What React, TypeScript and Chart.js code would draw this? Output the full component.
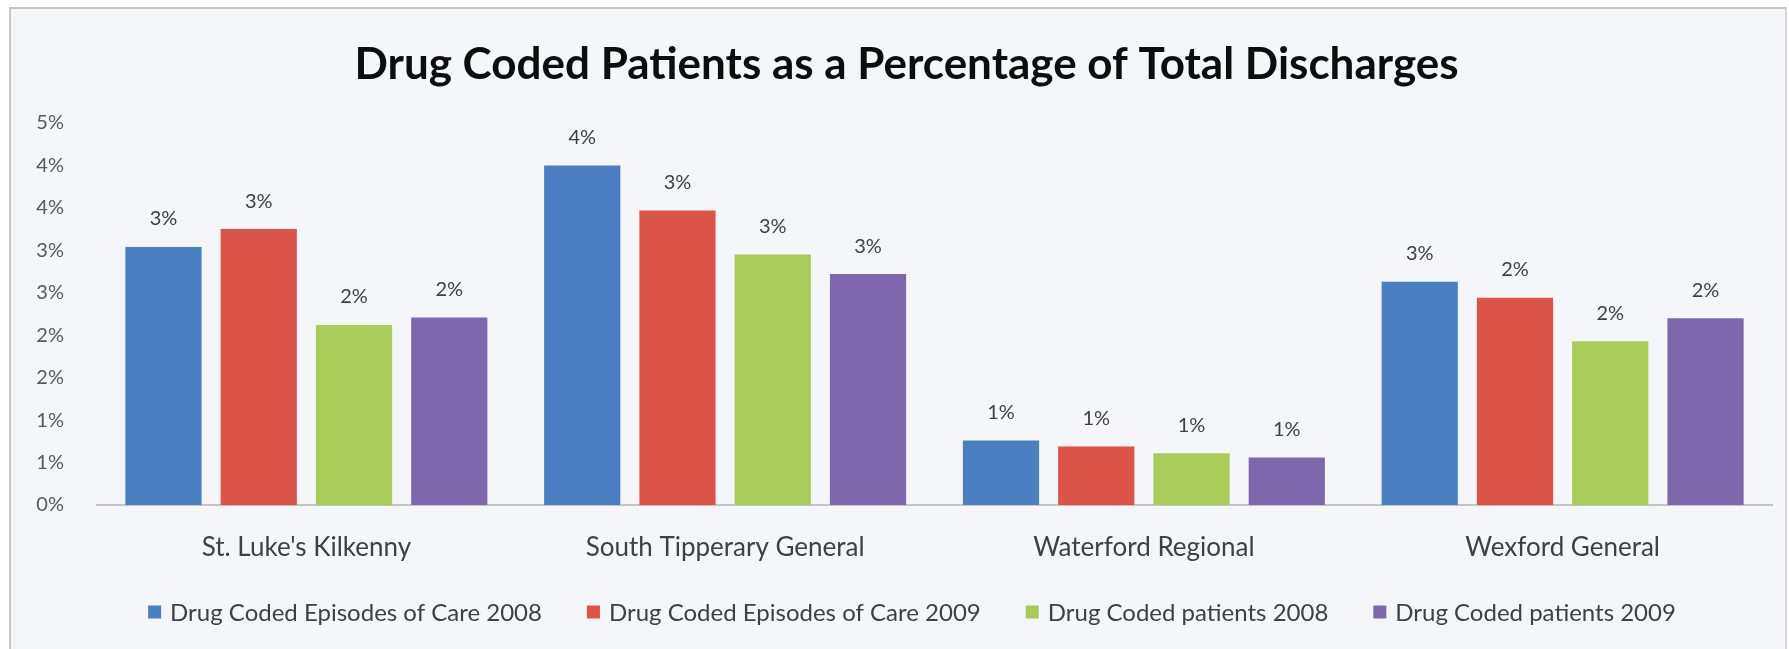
import React, { useEffect, useRef } from "react";
import { Chart, registerables } from "chart.js";

Chart.register(...registerables);

const TITLE = "Drug Coded Patients as a Percentage of Total Discharges";
const categories = ["St. Luke's Kilkenny", "South Tipperary General", "Waterford Regional", "Wexford General"];
const seriesNames = [
  "Drug Coded Episodes of Care 2008",
  "Drug Coded Episodes of Care 2009",
  "Drug Coded patients 2008",
  "Drug Coded patients 2009",
];
const episodes2008 = [3.04, 4.0, 0.76, 2.63];
const episodes2009 = [3.25, 3.47, 0.69, 2.44];
const patients2008 = [2.12, 2.95, 0.61, 1.93];
const patients2009 = [2.21, 2.72, 0.56, 2.2];
const seriesColors = ["#4a7fc1", "#dc5447", "#a9cc58", "#7f67ad"];
const yMin = 0;
const yMax = 4.5;
const yStep = 0.5;

const FONT = "Lato, 'Open Sans', sans-serif";

const pct = (v: number) => Math.round(v) + "%";

const overlayPlugin = {
  id: "overlay",
  afterDatasetsDraw(chart: any) {
    const ctx = chart.ctx;
    ctx.save();
    // title
    ctx.font = `bold 44px ${FONT}`;
    ctx.fillStyle = "#0d0d0d";
    ctx.textAlign = "center";
    ctx.textBaseline = "middle";
    ctx.fillText(TITLE, chart.width / 2 + 12, 65);
    // data labels
    ctx.font = `20px ${FONT}`;
    ctx.fillStyle = "#404040";
    chart.data.datasets.forEach((ds: any, i: number) => {
      const meta = chart.getDatasetMeta(i);
      meta.data.forEach((bar: any, j: number) => {
        ctx.fillText(pct(ds.data[j]), bar.x, bar.y - 28);
      });
    });
    // legend
    const legendY = 612;
    const box = 13;
    const boxGap = 9;
    const itemGap = 45;
    ctx.font = `24px ${FONT}`;
    const widths = chart.data.datasets.map((ds: any) => ctx.measureText(ds.label).width);
    const n = chart.data.datasets.length;
    const total = widths.reduce((a: number, b: number) => a + b, 0) + n * (box + boxGap) + itemGap * (n - 1);
    let x = 912 - total / 2;
    ctx.textAlign = "left";
    chart.data.datasets.forEach((ds: any, i: number) => {
      ctx.fillStyle = ds.backgroundColor;
      ctx.fillRect(x, legendY - box / 2, box, box);
      x += box + boxGap;
      ctx.fillStyle = "#404040";
      ctx.fillText(ds.label, x, legendY + 1);
      x += widths[i] + itemGap;
    });
    ctx.restore();
  },
};

export default function App() {
  const canvasRef = useRef<HTMLCanvasElement | null>(null);

  useEffect(() => {
    if (!canvasRef.current) return;
    const allSeries = [episodes2008, episodes2009, patients2008, patients2009];
    const chart = new Chart(canvasRef.current, {
      type: "bar",
      data: {
        labels: categories,
        datasets: allSeries.map((d, i) => ({
          label: seriesNames[i],
          data: d,
          backgroundColor: seriesColors[i],
          borderWidth: 0,
          categoryPercentage: 0.91,
          barPercentage: 0.8,
        })),
      },
      options: {
        animation: false,
        responsive: true,
        maintainAspectRatio: false,
        layout: { padding: { left: 10, right: 17, top: 123, bottom: 4 } },
        plugins: {
          legend: { display: false },
          tooltip: { enabled: false },
          title: { display: false },
        },
        scales: {
          x: {
            grid: { display: false, drawTicks: false },
            border: { display: true, color: "#c4c4c4", width: 2 },
            ticks: { color: "#404040", font: { family: FONT, size: 26 }, padding: 27 },
            afterFit: (s: any) => { s.height = 140; },
          },
          y: {
            min: yMin,
            max: yMax,
            grid: { display: false, drawTicks: false },
            border: { display: false },
            ticks: {
              stepSize: yStep,
              color: "#595959",
              font: { family: FONT, size: 20 },
              padding: 33,
              callback: (v: any) => pct(Number(v)),
            },
            afterFit: (s: any) => { s.width = 87; },
          },
        },
      },
      plugins: [overlayPlugin],
    });
    return () => chart.destroy();
  }, []);

  return (
    <div style={{ position: "fixed", left: 0, top: 0, width: 1789, height: 649, background: "#ffffff", overflow: "hidden" }}>
      <div
        style={{
          position: "absolute",
          left: 9,
          top: 7,
          width: 1774,
          height: 660,
          background: "#f4f6fa",
          borderTop: "2px solid #c8c8c8",
          borderLeft: "2px solid #c8c8c8",
          borderRight: "2px solid #d8d8d8",
        }}
      />
      <div style={{ position: "absolute", left: 0, top: 0, width: 1789, height: 649 }}>
        <canvas ref={canvasRef} />
      </div>
    </div>
  );
}
